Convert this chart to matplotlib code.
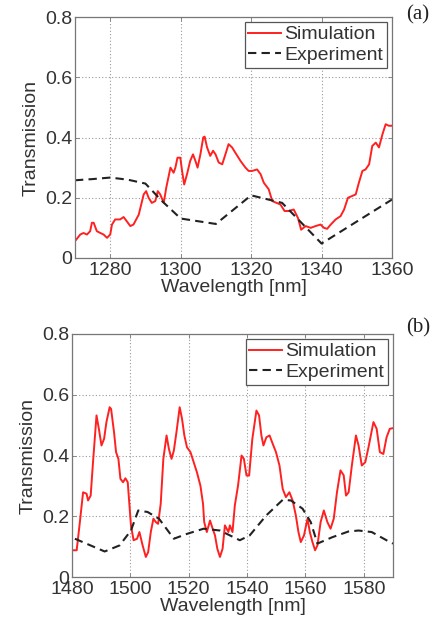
import matplotlib
matplotlib.use("Agg")
import matplotlib.pyplot as plt

# ---- data ----
# (a) O-band
sim_a_wl = [1270.0, 1271.5, 1272.4, 1273.4, 1274.3, 1274.8, 1275.3, 1276.2, 1277.2, 1278.1,
            1279.1, 1280.0, 1280.5, 1281.4, 1282.8, 1283.8, 1284.7, 1285.7, 1286.6, 1288.1,
            1289.5, 1290.2, 1290.9, 1291.8, 1292.8, 1293.5, 1294.2, 1295.2, 1295.9, 1297.1,
            1298.0, 1298.5, 1299.1, 1299.9, 1300.4, 1301.0, 1301.8, 1302.7, 1303.5, 1304.2,
            1304.8, 1305.6, 1306.4, 1306.8, 1307.5, 1308.4, 1309.2, 1309.9, 1310.8, 1311.8,
            1312.7, 1313.6, 1314.6, 1315.5, 1317.0, 1318.4, 1319.3, 1320.3, 1321.7, 1322.7,
            1323.6, 1325.0, 1326.0, 1327.2, 1328.3, 1329.5, 1330.7, 1332.1, 1333.3, 1334.2,
            1335.5, 1336.9, 1338.3, 1339.7, 1340.7, 1341.6, 1342.6, 1344.0, 1345.4, 1346.4,
            1347.5, 1348.7, 1349.7, 1350.6, 1351.6, 1352.5, 1353.5, 1354.4, 1355.4, 1356.3,
            1357.3, 1358.2, 1359.1, 1360.0]
sim_a_t = [0.056, 0.078, 0.083, 0.078, 0.089, 0.117, 0.117, 0.089, 0.083, 0.078,
           0.067, 0.078, 0.111, 0.128, 0.128, 0.136, 0.122, 0.106, 0.111, 0.144,
           0.211, 0.222, 0.200, 0.183, 0.189, 0.222, 0.211, 0.183, 0.233, 0.300,
           0.283, 0.300, 0.333, 0.333, 0.289, 0.244, 0.278, 0.322, 0.344, 0.322,
           0.300, 0.344, 0.400, 0.403, 0.367, 0.339, 0.356, 0.344, 0.317, 0.311,
           0.344, 0.378, 0.367, 0.350, 0.322, 0.300, 0.289, 0.289, 0.294, 0.278,
           0.250, 0.228, 0.189, 0.183, 0.178, 0.156, 0.156, 0.161, 0.133, 0.094,
           0.106, 0.100, 0.106, 0.111, 0.100, 0.097, 0.111, 0.128, 0.139, 0.161,
           0.200, 0.206, 0.211, 0.250, 0.289, 0.294, 0.311, 0.372, 0.383, 0.367,
           0.411, 0.444, 0.439, 0.439]
exp_a_wl = [1270.0, 1275.0, 1280.0, 1285.0, 1290.0, 1294.7, 1300.0, 1310.0, 1320.0, 1328.8, 1340.0, 1360.0]
exp_a_t = [0.258, 0.262, 0.267, 0.260, 0.247, 0.189, 0.131, 0.113, 0.208, 0.183, 0.048, 0.194]

# (b) C-band
sim_b_wl = [1480.0, 1481.6, 1482.7, 1483.8, 1485.0, 1485.5, 1486.4, 1487.2, 1488.4, 1489.2,
            1490.1, 1491.0, 1491.8, 1492.9, 1493.4, 1494.4, 1495.1, 1495.9, 1496.6, 1497.5,
            1498.3, 1499.1, 1500.2, 1501.1, 1502.3, 1503.1, 1504.2, 1505.3, 1506.1, 1507.0,
            1507.9, 1508.7, 1509.5, 1510.4, 1511.3, 1512.4, 1513.2, 1514.1, 1514.9, 1515.8,
            1516.9, 1517.7, 1518.5, 1519.4, 1520.6, 1521.7, 1522.8, 1524.0, 1524.9, 1525.3,
            1526.2, 1527.3, 1528.2, 1529.0, 1529.8, 1530.7, 1531.6, 1532.4, 1533.6, 1534.1,
            1535.0, 1535.8, 1536.9, 1538.1, 1538.9, 1539.8, 1540.7, 1541.8, 1543.2, 1544.1,
            1544.9, 1545.6, 1546.6, 1547.7, 1548.8, 1549.9, 1551.1, 1552.2, 1553.3, 1554.5,
            1555.6, 1556.7, 1557.6, 1558.4, 1559.5, 1560.7, 1561.5, 1562.4, 1563.3, 1564.1,
            1565.2, 1566.3, 1567.5, 1568.6, 1569.7, 1570.8, 1572.0, 1573.1, 1573.9, 1574.8,
            1575.9, 1577.3, 1578.2, 1579.3, 1580.5, 1581.6, 1583.3, 1584.4, 1585.5, 1586.7,
            1587.8, 1588.9, 1590.0]
sim_b_t = [0.088, 0.088, 0.181, 0.279, 0.274, 0.252, 0.268, 0.378, 0.532, 0.488,
           0.433, 0.455, 0.510, 0.559, 0.553, 0.477, 0.411, 0.389, 0.323, 0.312,
           0.325, 0.312, 0.170, 0.121, 0.126, 0.148, 0.104, 0.066, 0.082, 0.148,
           0.192, 0.181, 0.175, 0.241, 0.389, 0.466, 0.422, 0.389, 0.416, 0.477,
           0.559, 0.521, 0.466, 0.427, 0.411, 0.378, 0.345, 0.301, 0.241, 0.181,
           0.148, 0.186, 0.159, 0.137, 0.093, 0.066, 0.093, 0.170, 0.148, 0.170,
           0.148, 0.236, 0.301, 0.400, 0.389, 0.334, 0.334, 0.455, 0.548, 0.532,
           0.466, 0.433, 0.460, 0.466, 0.438, 0.411, 0.367, 0.290, 0.263, 0.279,
           0.252, 0.203, 0.148, 0.115, 0.137, 0.192, 0.148, 0.115, 0.088, 0.104,
           0.181, 0.219, 0.181, 0.159, 0.192, 0.279, 0.351, 0.335, 0.268, 0.279,
           0.367, 0.466, 0.433, 0.367, 0.378, 0.427, 0.510, 0.488, 0.411, 0.405,
           0.460, 0.488, 0.490]
exp_b_wl = [1481.0, 1491.2, 1496.3, 1500.2, 1502.7, 1505.9, 1509.8, 1514.9, 1519.4, 1525.1,
            1530.7, 1537.5, 1540.9, 1546.6, 1552.2, 1555.0, 1559.0, 1561.8, 1564.1, 1569.2,
            1574.8, 1578.2, 1582.7, 1588.9, 1590.0]
exp_b_t = [0.126, 0.084, 0.104, 0.153, 0.219, 0.214, 0.192, 0.126, 0.142, 0.159,
           0.153, 0.121, 0.137, 0.203, 0.254, 0.252, 0.225, 0.181, 0.110, 0.131,
           0.150, 0.153, 0.148, 0.115, 0.110]

panels = [
    ("(a)", sim_a_wl, sim_a_t, exp_a_wl, exp_a_t, (1270, 1360), [1280, 1300, 1320, 1340, 1360]),
    ("(b)", sim_b_wl, sim_b_t, exp_b_wl, exp_b_t, (1480, 1590), [1480, 1500, 1520, 1540, 1560, 1580]),
]
y_ticks = [0, 0.2, 0.4, 0.6, 0.8]
y_labels = ["0", "0.2", "0.4", "0.6", "0.8"]

TXT = "#333333"
plt.rcParams.update({
    "font.family": ["Liberation Sans", "DejaVu Sans"],
    "font.size": 14,
    "text.color": TXT,
    "axes.labelcolor": TXT,
    "xtick.color": TXT,
    "ytick.color": TXT,
})

fig = plt.figure(figsize=(4.4, 6.28), dpi=100)
# axes boxes in figure fractions (left, bottom, width, height)
boxes = [
    (75 / 440, 1 - 258 / 628, 317 / 440, 241 / 628),
    (72 / 440, 1 - 577 / 628, 321 / 440, 243 / 628),
]
label_y = [15, 328]

for (tag, swl, st, ewl, et, xlim, xt), box, ly in zip(panels, boxes, label_y):
    ax = fig.add_axes(box)
    ax.plot(swl, st, color="#ff2020", lw=1.4, label="Simulation")
    ax.plot(ewl, et, color="#222222", lw=1.5, ls=(0, (4, 2.5)), label="Experiment")
    ax.set_xlim(*xlim)
    ax.set_ylim(0, 0.8)
    ax.set_xticks(xt)
    ax.set_yticks(y_ticks)
    ax.set_yticklabels(y_labels)
    ax.grid(True, ls=(0, (1, 2)), color="#999999", lw=0.8)
    ax.tick_params(direction="in", length=3, width=0.6, color="#777777", pad=2,
                   top=True, right=True)
    ax.tick_params(axis="x", pad=3)
    for s in ax.spines.values():
        s.set_color("#777777")
        s.set_linewidth(0.9)
    ax.set_xlabel("Wavelength [nm]", labelpad=0)
    ax.set_ylabel("Transmission", labelpad=4)
    leg = ax.legend(loc="upper right", handlelength=1.7, handletextpad=0.15,
                    borderpad=0.2, labelspacing=0.15, borderaxespad=0.25,
                    fancybox=False, framealpha=1, edgecolor="#555555")
    leg.get_frame().set_linewidth(0.9)
    fig.text(418 / 440, 1 - ly / 628, tag, ha="center", va="center",
             fontsize=15, family=["Liberation Serif", "DejaVu Serif"], color="#222222")

fig.savefig("out.png", dpi=100)
